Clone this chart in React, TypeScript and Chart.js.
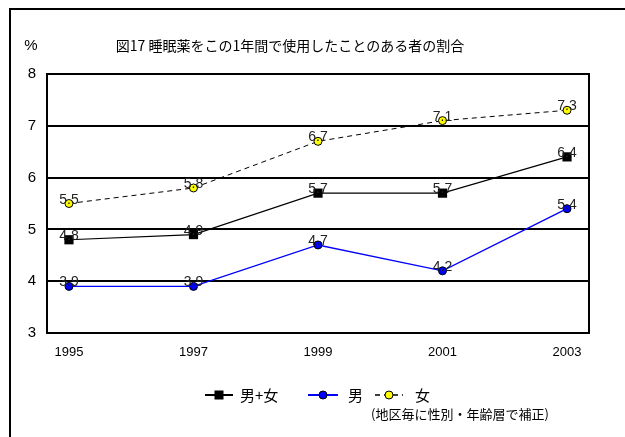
import React, { useEffect, useRef } from "react";
import { Chart, registerables } from "chart.js";

Chart.register(...registerables);

const years = [1995, 1997, 1999, 2001, 2003];
const total = [4.8, 4.9, 5.7, 5.7, 6.4];
const male = [3.9, 3.9, 4.7, 4.2, 5.4];
const female = [5.5, 5.8, 6.7, 7.1, 7.3];
const seriesNames = ["男+女", "男", "女"];
const yTicks = [3, 4, 5, 6, 7, 8];
const titleText = "図17 睡眠薬をこの1年間で使用したことのある者の割合";
const unitText = "%";
const noteText = "(地区毎に性別・年齢層で補正)";

const NARROW = "'Liberation Sans Narrow', 'Liberation Sans', Arial, sans-serif";
const JP = "'Liberation Sans Narrow', 'Noto Sans CJK JP', sans-serif";

const decorPlugin = {
  id: "decor",
  beforeDatasetsDraw(chart: any) {
    const { ctx, chartArea } = chart;
    ctx.save();
    ctx.strokeStyle = "#000";
    ctx.lineWidth = 2;
    ctx.strokeRect(chartArea.left, chartArea.top, chartArea.right - chartArea.left, chartArea.bottom - chartArea.top);
    ctx.restore();
  },
  afterDatasetsDraw(chart: any) {
    const { ctx } = chart;
    ctx.save();
    ctx.font = `14px ${NARROW}`;
    ctx.fillStyle = "#222";
    ctx.textAlign = "center";
    ctx.textBaseline = "alphabetic";
    chart.data.datasets.forEach((ds: any, i: number) => {
      const meta = chart.getDatasetMeta(i);
      meta.data.forEach((pt: any, j: number) => {
        const v = ds.data[j].y;
        ctx.fillText(v.toFixed(1), pt.x, pt.y);
      });
    });
    ctx.restore();
  },
  afterDraw(chart: any) {
    const { ctx } = chart;
    ctx.save();
    ctx.strokeStyle = "#000";
    ctx.lineWidth = 2;
    ctx.beginPath();
    ctx.moveTo(10, 437);
    ctx.lineTo(10, 9);
    ctx.lineTo(625, 9);
    ctx.stroke();

    ctx.fillStyle = "#000";
    ctx.textBaseline = "middle";
    ctx.font = `15px ${NARROW}`;
    ctx.textAlign = "center";
    ctx.fillText(unitText, 31, 46);
    ctx.font = `14px ${JP}`;
    ctx.textAlign = "center";
    ctx.fillText(titleText, 290, 46);

    const ly = 395;
    const items = [
      { x0: 205, x1: 233, text: 0, tx: 240, w: 2 },
      { x0: 308, x1: 338, text: 1, tx: 348, w: 2 },
      { x0: 375, x1: 403, text: 2, tx: 415, w: 1.5 },
    ];
    items.forEach((it, i) => {
      const ds = chart.data.datasets[i];
      ctx.save();
      ctx.strokeStyle = ds.borderColor;
      ctx.lineWidth = it.w;
      ctx.setLineDash(ds.borderDash || []);
      ctx.beginPath();
      ctx.moveTo(it.x0, ly);
      ctx.lineTo(it.x1, ly);
      ctx.stroke();
      ctx.setLineDash([]);
      const cx = (it.x0 + it.x1) / 2;
      ctx.fillStyle = ds.pointBackgroundColor;
      ctx.strokeStyle = ds.pointBorderColor;
      ctx.lineWidth = 1;
      if (ds.pointStyle === "rect") {
        ctx.fillRect(cx - 4.5, ly - 4.5, 9, 9);
      } else {
        ctx.beginPath();
        ctx.arc(cx, ly, 4, 0, Math.PI * 2);
        ctx.fill();
        ctx.stroke();
      }
      ctx.restore();
      ctx.fillStyle = "#000";
      ctx.font = `15px ${JP}`;
      ctx.textAlign = "left";
      ctx.fillText(seriesNames[it.text], it.tx, ly);
    });
    ctx.font = `13px ${JP}`;
    ctx.textAlign = "left";
    ctx.fillText(noteText, 371, 414);
    ctx.restore();
  },
};

export default function App() {
  const ref = useRef<HTMLCanvasElement>(null);
  useEffect(() => {
    if (!ref.current) return;
    const mk = (arr: number[]) => years.map((y, i) => ({ x: y, y: arr[i] }));
    const chart = new Chart(ref.current, {
      type: "line",
      data: {
        datasets: [
          {
            label: seriesNames[0],
            data: mk(total),
            borderColor: "#000",
            borderWidth: 1.2,
            pointStyle: "rect",
            pointRadius: 6.5,
            pointBackgroundColor: "#000",
            pointBorderColor: "#000",
            pointBorderWidth: 0,
          },
          {
            label: seriesNames[1],
            data: mk(male),
            borderColor: "#0000ff",
            borderWidth: 1.4,
            pointStyle: "circle",
            pointRadius: 4,
            pointBackgroundColor: "#0000ff",
            pointBorderColor: "#000",
            pointBorderWidth: 1,
          },
          {
            label: seriesNames[2],
            data: mk(female),
            borderColor: "#000",
            borderWidth: 1,
            borderDash: [5, 4],
            pointStyle: "circle",
            pointRadius: 4,
            pointBackgroundColor: "#ffff00",
            pointBorderColor: "#000",
            pointBorderWidth: 1,
          },
        ] as any,
      },
      options: {
        animation: false,
        responsive: false,
        maintainAspectRatio: false,
        layout: { padding: { top: 74, right: 36, left: 0, bottom: 0 } },
        plugins: { legend: { display: false }, title: { display: false }, tooltip: { enabled: false } },
        scales: {
          x: {
            type: "linear",
            min: 1994.647,
            max: 2003.353,
            afterFit: (s: any) => { s.height = 437 - 333; },
            afterBuildTicks: (s: any) => { s.ticks = years.map((v) => ({ value: v })); },
            grid: { display: false, drawTicks: false },
            border: { display: false },
            ticks: {
              padding: 12,
              font: { size: 13, family: NARROW },
              color: "#000",
              callback: (v: any) => String(v),
              autoSkip: false,
              maxRotation: 0,
            },
          },
          y: {
            min: 3,
            max: 8,
            afterFit: (s: any) => { s.width = 47; },
            afterBuildTicks: (s: any) => { s.ticks = yTicks.map((v) => ({ value: v })); },
            grid: { color: "#000", lineWidth: 2, drawTicks: false },
            border: { display: false },
            ticks: {
              padding: 11,
              font: { size: 15, family: NARROW },
              color: "#000",
              callback: (v: any) => String(v),
            },
          },
        },
      } as any,
      plugins: [decorPlugin],
    });
    return () => chart.destroy();
  }, []);
  return (
    <div style={{ position: "absolute", left: 0, top: 0, width: 625, height: 437, background: "#fff" }}>
      <canvas ref={ref} width={625} height={437} style={{ width: 625, height: 437, display: "block" }} />
    </div>
  );
}
